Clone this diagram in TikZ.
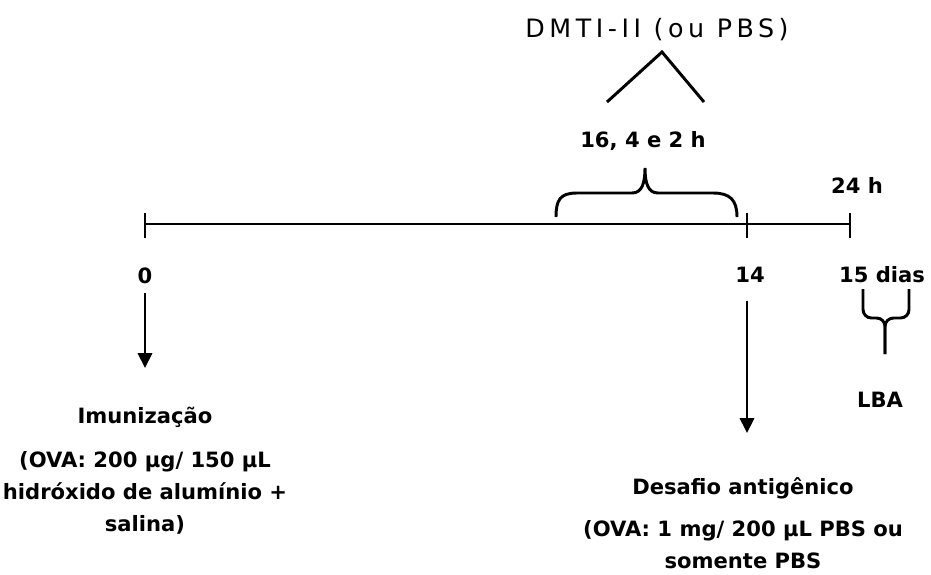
\documentclass[tikz,border=0pt]{standalone}
\usepackage{fontspec}
\setmainfont{DejaVu Sans}
\newfontfamily\widefont[LetterSpace=18]{DejaVu Sans}
\usetikzlibrary{arrows.meta,positioning,calc}

\begin{document}
\begin{tikzpicture}[
  x=0.025cm, y=-0.025cm,
  every node/.style={font=\fontsize{15}{22.7}\selectfont\bfseries, inner sep=0pt},
  lbl/.style={anchor=base},
  info/.style={anchor=base, align=center},
  axis/.style={line width=2.1pt},
  arr/.style={-{Triangle[length=10.5pt,width=10pt]}, line width=2pt},
  brc/.style={line width=2.1pt}
]
  \useasboundingbox (0,0) rectangle (931,574);
  % time axis
  \coordinate (d0) at (145,224);
  \coordinate (d14) at (747,224);
  \coordinate (d15) at (850,224);
  \draw[axis] (d0) -- (d15);
  \foreach \t in {d0,d14,d15} {
    \draw[axis] ($(\t)+(0,-11)$) -- ($(\t)+(0,14)$);
  }

  % day labels
  \node[lbl] (n0) at (145,283) {0};
  \node[lbl] (n14) at (750,282) {14};
  \node[lbl] (n15) at (882,282) {15 dias};
  \node[lbl] (h24) at (857,193) {24 h};
  \node[lbl] (hrs) at (643,147) {16, 4 e 2 h};
  \node[lbl, font=\widefont\fontsize{18}{20}\selectfont] (dmti) at (657,37) {DMTI-II (ou PBS)};
  \node[lbl] (lba) at (880,407) {LBA};

  % protocol steps (base = last line)
  \node[lbl] (imun) at (145,423) {Imunização};
  \node[info] (imunx) at (145,531) {(OVA: 200 μg/ 150 μL\\hidróxido de alumínio +\\salina)};
  \node[lbl] (desf) at (743,494) {Desafio antigênico};
  \node[info] (desfx) at (743,568) {(OVA: 1 mg/ 200 μL PBS ou\\somente PBS};

  % arrows
  \coordinate (a0) at (145,368);
  \coordinate (a14) at (747,433);
  \foreach \f/\t/\s in {n0/a0/7pt, n14/a14/13pt} {
    \draw[arr, shorten <=\s] (\f.south -| \t) -- (\t);
  }

  % braces
  \draw[brc] (556,217) .. controls (556,200) and (560,193) .. (577,193)
    -- (632,193) .. controls (642,193) and (645,183) .. (645,168)
    .. controls (645,183) and (648,193) .. (658,193)
    -- (713,193) .. controls (730,193) and (737,200) .. (737,217);
  \draw[brc] (607,102) -- (662,52) -- (704,102);
  \draw[brc, rounded corners=6pt] (863,289) |- (885,318) -- (885,354);
  \draw[brc, rounded corners=6pt] (909,289) |- (885,318) -- (885,354);
\end{tikzpicture}
\end{document}
